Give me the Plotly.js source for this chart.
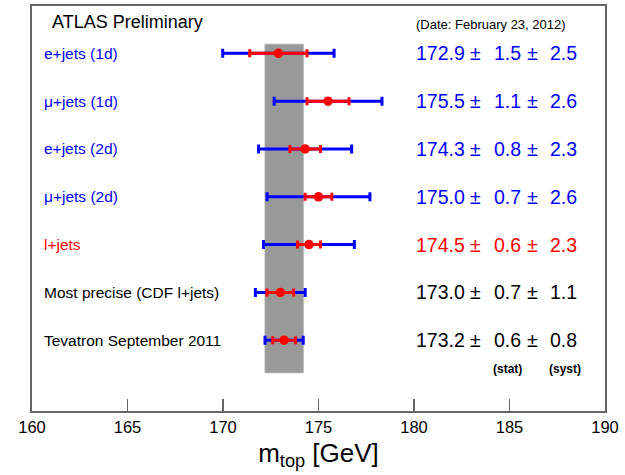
<!DOCTYPE html>
<html>
<head>
<meta charset="utf-8">
<script src="https://cdn.plot.ly/plotly-3.0.1.min.js"></script>
<style>
  html, body { margin: 0; padding: 0; background: #fff; }
  #chart { width: 625px; height: 475px; }
</style>
</head>
<body>
<div id="chart"></div>
<script>
// Top-quark mass measurements (GeV): central value, statistical and systematic uncertainty
const labels = ['e+jets (1d)', 'μ+jets (1d)', 'e+jets (2d)', 'μ+jets (2d)', 'l+jets',
                'Most precise (CDF l+jets)', 'Tevatron September 2011'];
const mtop = [172.9, 175.5, 174.3, 175.0, 174.5, 173.0, 173.2];
const stat = [1.5, 1.1, 0.8, 0.7, 0.6, 0.7, 0.6];
const syst = [2.5, 2.6, 2.3, 2.6, 2.3, 1.1, 0.8];
const rowColors = ['#0000ff', '#0000ff', '#0000ff', '#0000ff', '#ff0000', '#000000', '#000000'];
const xTicks = [160, 165, 170, 175, 180, 185, 190];

// Tevatron combination defines the reference band
const refIndex = 6;

const rows = labels.map((_, i) => labels.length - i);          // top row first
const total = stat.map((s, i) => Math.sqrt(s * s + syst[i] * syst[i]));
const refTotal = total[refIndex];

const FONT = 'Liberation Sans, Arial, Helvetica, sans-serif';

const totalTrace = {
  x: mtop, y: rows, type: 'scatter', mode: 'markers',
  marker: { size: 1, color: 'rgba(0,0,0,0)' },
  error_x: { type: 'data', array: total, symmetric: true, color: '#0000ff', thickness: 3, width: 4.5 },
  hoverinfo: 'skip', showlegend: false
};
const statTrace = {
  x: mtop, y: rows, type: 'scatter', mode: 'markers',
  marker: { size: 9.5, color: '#ff0000' },
  error_x: { type: 'data', array: stat, symmetric: true, color: '#ff0000', thickness: 3, width: 4 },
  hoverinfo: 'skip', showlegend: false
};

const annotations = [];
const valX = { central: 180.0, pm1: 182.85, stat: 184.1, pm2: 185.8, syst: 187.0 };
labels.forEach((lab, i) => {
  const c = rowColors[i];
  const y = rows[i];
  const base = { xref: 'x', yref: 'y', y: y, xanchor: 'left', yanchor: 'middle', showarrow: false };
  annotations.push(Object.assign({}, base, { x: 160.5, text: lab, font: { family: FONT, size: 15.5, color: c } }));
  const vf = { family: FONT, size: 19.5, color: c };
  annotations.push(Object.assign({}, base, { x: valX.central, text: mtop[i].toFixed(1), font: vf }));
  annotations.push(Object.assign({}, base, { x: valX.pm1, text: '±', font: vf }));
  annotations.push(Object.assign({}, base, { x: valX.stat, text: stat[i].toFixed(1), font: vf }));
  annotations.push(Object.assign({}, base, { x: valX.pm2, text: '±', font: vf }));
  annotations.push(Object.assign({}, base, { x: valX.syst, text: syst[i].toFixed(1), font: vf }));
});
annotations.push({ xref: 'x', yref: 'y', x: 160.95, y: 7.65, xanchor: 'left', yanchor: 'middle', showarrow: false,
  text: 'ATLAS Preliminary', font: { family: FONT, size: 18, color: '#000' } });
annotations.push({ xref: 'x', yref: 'y', x: 180.0, y: 7.61, xanchor: 'left', yanchor: 'middle', showarrow: false,
  text: '(Date: February 23, 2012)', font: { family: FONT, size: 13, color: '#000' } });
annotations.push({ xref: 'x', yref: 'y', x: 184.05, y: 0.4, xanchor: 'left', yanchor: 'middle', showarrow: false,
  text: '<b>(stat)</b>', font: { family: FONT, size: 12, color: '#000' } });
annotations.push({ xref: 'x', yref: 'y', x: 186.95, y: 0.4, xanchor: 'left', yanchor: 'middle', showarrow: false,
  text: '<b>(syst)</b>', font: { family: FONT, size: 12, color: '#000' } });

const layout = {
  width: 625, height: 475,
  margin: { l: 32, r: 20, t: 6, b: 64 },
  paper_bgcolor: '#fff', plot_bgcolor: '#fff',
  showlegend: false,
  xaxis: {
    range: [160, 190], tickvals: xTicks, ticktext: xTicks.map(String),
    ticks: 'inside', ticklen: 12, tickwidth: 1.5, tickcolor: '#666',
    showgrid: false, zeroline: false,
    showline: true, linecolor: '#666', linewidth: 2, mirror: true,
    tickfont: { family: FONT, size: 16.5, color: '#000' },
    title: { text: 'm<sub>top</sub> [GeV]', font: { family: FONT, size: 26, color: '#000' }, standoff: 9 }
  },
  yaxis: {
    range: [-0.48, 7.99], showticklabels: false, ticks: '', showgrid: false, zeroline: false,
    showline: true, linecolor: '#666', linewidth: 2, mirror: true
  },
  shapes: [{
    type: 'rect', layer: 'below', xref: 'x', yref: 'y',
    x0: mtop[refIndex] - refTotal, x1: mtop[refIndex] + refTotal, y0: 0.32, y1: 7.19,
    fillcolor: '#999999', line: { width: 1, color: '#aaaaaa' }
  }],
  annotations: annotations
};

Plotly.newPlot('chart', [totalTrace, statTrace], layout, { staticPlot: true, displayModeBar: false });
</script>
</body>
</html>
